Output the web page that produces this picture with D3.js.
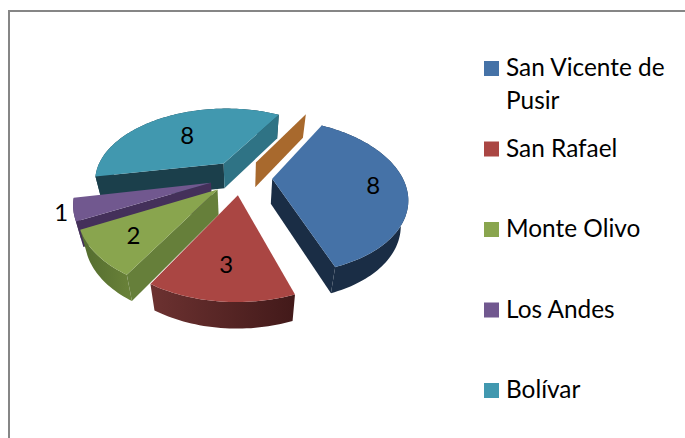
<!DOCTYPE html>
<html>
<head>
<meta charset="utf-8">
<script src="https://cdn.jsdelivr.net/npm/d3@7"></script>
<style>
html,body{margin:0;padding:0;background:#fff;overflow:hidden}
svg{display:block}
text{font-family:Lato,"Open Sans",sans-serif;fill:#000}
</style>
</head>
<body>
<script>
var places=["San Vicente de Pusir","San Rafael","Monte Olivo","Los Andes","Bolívar",""];
var counts=[8,3,2,1,8,0];
var topColor=["#4572a7","#aa4643","#89a54e","#71588f","#4198af","#db843d"];
var sideColor=["#1a2d45","#6b3130","#6a8239","#44305a","#1b3f4b","#a8692d"];
var sideColorEnd=["#1a2d45","#431a1a","#566f30","#44305a","#1b3f4b","#a8692d"];
var startWall=["#1a2d45","#4a2020","#667f3a","#44305a","#1b3f4b","#a8692d"];
var endWall=["#1a2d45","#4a2020","#667f3a","#44305a","#2f7385","#a8692d"];
var labelReach=[0.76,0.7,0.73,1.08,0.58,0];
var drawOrder=[4,5,0,3,2,1];

var width=685,height=438;
var cx=241,cy=177,R=130,k=0.559,p=0.226,explode=0.24,depth=25,shrink=0.955;

var svg=d3.select("body").append("svg").attr("width",width).attr("height",height);

// chart frame, cut off by the window on the right and at the bottom
svg.append("path")
   .attr("d","M9,"+height+"V11H"+width)
   .attr("fill","none")
   .attr("stroke","#868686")
   .attr("stroke-width",2);

var pie=d3.pie().value(function(d){return d;}).sort(null)
          .startAngle(Math.PI/6).endAngle(Math.PI/6+2*Math.PI);
var arcs=pie(counts);

// a point of the pie plane to the screen, with a little perspective
var project=function(X,Y,low){
  var s=1/(1-p*Y);
  var x=cx+R*X*s,y=cy+k*R*Y*s;
  if(low){
    x=cx+(x-cx)*shrink;
    y=y+depth*(1+0.05*Y);
  }
  return [x,y];
};
var rimPoint=function(a,ang,r,low){
  var mid=(a.startAngle+a.endAngle)/2;
  return project(explode*Math.sin(mid)+r*Math.sin(ang),-explode*Math.cos(mid)-r*Math.cos(ang),low);
};
var rim=function(a,low){
  var n=Math.max(2,Math.round((a.endAngle-a.startAngle)*40));
  return d3.range(n+1).map(function(i){
    return rimPoint(a,a.startAngle+(a.endAngle-a.startAngle)*i/n,1,low);
  });
};
var line=d3.line();
var defs=svg.append("defs");

drawOrder.forEach(function(i){
  var a=arcs[i];
  var g=svg.append("g");
  var apex=rimPoint(a,0,0,false),apexLow=rimPoint(a,0,0,true);
  var top=rim(a,false),low=rim(a,true);
  var first=top[0],last=top[top.length-1];
  var firstLow=low[0],lastLow=low[low.length-1];

  if(counts[i]>0){
    var grad=defs.append("linearGradient")
                 .attr("id","wall"+i)
                 .attr("gradientUnits","userSpaceOnUse")
                 .attr("x1",d3.min(low,function(d){return d[0];}))
                 .attr("x2",d3.max(low,function(d){return d[0];}))
                 .attr("y1",0).attr("y2",0);
    grad.append("stop").attr("offset",0).attr("stop-color",i==1?sideColor[i]:sideColorEnd[i]);
    grad.append("stop").attr("offset",1).attr("stop-color",i==1?sideColorEnd[i]:sideColor[i]);
    g.append("path")
     .attr("d",line(top.concat(low.slice().reverse()))+"Z")
     .attr("fill","url(#wall"+i+")");
  }

  // a radial wall only shows when the side it faces is turned to the viewer
  if(first[0]<apex[0]){
    g.append("path").attr("d",line([apex,first,firstLow,apexLow])+"Z").attr("fill",startWall[i]);
  }
  if(last[0]>apex[0]){
    g.append("path").attr("d",line([apex,last,lastLow,apexLow])+"Z").attr("fill",endWall[i]);
  }

  if(counts[i]>0){
    g.append("path")
     .attr("d",line([apex].concat(top))+"Z")
     .attr("fill",topColor[i]);
  }
});

// value labels
arcs.forEach(function(a,i){
  if(counts[i]==0){return;}
  var mid=(a.startAngle+a.endAngle)/2;
  var at=rimPoint(a,mid,labelReach[i],false);
  svg.append("text")
     .attr("x",at[0]).attr("y",at[1])
     .attr("text-anchor","middle")
     .attr("dominant-baseline","central")
     .attr("font-size",24)
     .text(counts[i]);
});

// legend
var legendY=d3.scalePoint().domain(places.slice(0,5)).range([61,383]);
places.slice(0,5).forEach(function(name,i){
  var y=legendY(name);
  svg.append("rect")
     .attr("x",484).attr("y",y).attr("width",15).attr("height",15)
     .attr("fill",topColor[i]);
  var lines=name=="San Vicente de Pusir"?["San Vicente de","Pusir"]:[name];
  lines.forEach(function(t,j){
    svg.append("text")
       .attr("x",506).attr("y",y+15+j*33)
       .attr("font-size",24.4)
       .text(t);
  });
});
</script>
</body>
</html>
